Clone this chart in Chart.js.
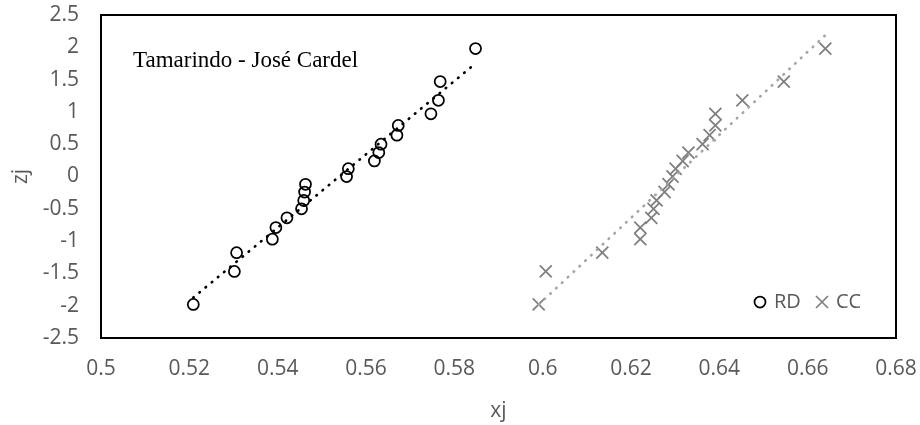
<!DOCTYPE html>
<html>
<head>
<meta charset="utf-8">
<script src="https://cdn.jsdelivr.net/npm/chart.js@4.4.0/dist/chart.umd.min.js"></script>
<style>
html, body { margin: 0; padding: 0; background: #fff; }
</style>
</head>
<body>
<canvas id="qqChart" width="920" height="425"></canvas>
<script>
// normal scores (same for both stations)
const zj = [-1.98, -1.47, -1.18, -0.97, -0.79, -0.64, -0.50, -0.37, -0.24, -0.12, 0,
            0.12, 0.24, 0.37, 0.50, 0.64, 0.79, 0.97, 1.18, 1.47, 1.98];
const rdXj = [0.5209, 0.5302, 0.5307, 0.5388, 0.5396, 0.5421, 0.5454, 0.5459, 0.5461, 0.5463, 0.5556,
              0.5560, 0.5619, 0.5629, 0.5634, 0.5670, 0.5673, 0.5747, 0.5764, 0.5768, 0.5848];
const ccXj = [0.5991, 0.6007, 0.6135, 0.6221, 0.6221, 0.6246, 0.6251, 0.6258, 0.6276, 0.6285, 0.6294,
              0.6301, 0.6317, 0.6330, 0.6362, 0.6378, 0.6391, 0.6391, 0.6452, 0.6546, 0.6640];
const xTicks = [0.5, 0.52, 0.54, 0.56, 0.58, 0.6, 0.62, 0.64, 0.66, 0.68];
const yTicks = [-2.5, -2, -1.5, -1, -0.5, 0, 0.5, 1, 1.5, 2, 2.5];
const seriesNames = ['RD', 'CC'];
const chartLabel = 'Tamarindo - José Cardel';

const tickFont = { family: "'Open Sans', sans-serif", size: 21 };
const textGray = '#595959';

function toPoints(xs, ys) {
    return xs.map((x, i) => ({ x: x, y: ys[i] }));
}

// linear trendline (least squares, zj on xj) between min and max x
function trendline(xs, ys) {
    const n = xs.length;
    const mx = xs.reduce((a, b) => a + b, 0) / n;
    const my = ys.reduce((a, b) => a + b, 0) / n;
    let sxy = 0, sxx = 0;
    for (let i = 0; i < n; i++) {
        sxy += (xs[i] - mx) * (ys[i] - my);
        sxx += (xs[i] - mx) * (xs[i] - mx);
    }
    const b = sxy / sxx;
    const a = my - b * mx;
    const lo = Math.min(...xs), hi = Math.max(...xs);
    return [{ x: lo, y: a + b * lo }, { x: hi, y: a + b * hi }];
}

function fmt(v) {
    return String(Math.round(v * 100) / 100);
}

const framePlugin = {
    id: 'frame',
    beforeDatasetsDraw(chart) {
        const { ctx, chartArea: a } = chart;
        ctx.save();
        ctx.strokeStyle = '#000';
        ctx.lineWidth = 2;
        ctx.strokeRect(a.left, a.top, a.right - a.left, a.bottom - a.top);
        ctx.restore();
    },
    afterDraw(chart) {
        const { ctx, chartArea: a } = chart;
        ctx.save();
        // label inside the plot
        ctx.fillStyle = '#000';
        ctx.font = "23px 'Liberation Serif', 'Times New Roman', serif";
        ctx.textBaseline = 'alphabetic';
        ctx.textAlign = 'left';
        ctx.fillText(chartLabel, a.left + 32, a.top + 51.5);

        // legend, bottom right
        const ly = a.bottom - 36;
        let lx = a.right - 136;
        ctx.strokeStyle = '#000';
        ctx.lineWidth = 1.75;
        ctx.beginPath();
        ctx.arc(lx, ly, 5.5, 0, Math.PI * 2);
        ctx.stroke();
        ctx.font = "20px 'Open Sans', sans-serif";
        ctx.fillStyle = textGray;
        ctx.textBaseline = 'middle';
        ctx.fillText(seriesNames[0], lx + 14, ly);
        lx += 62;
        ctx.strokeStyle = '#7f7f7f';
        ctx.beginPath();
        ctx.moveTo(lx - 6, ly - 6); ctx.lineTo(lx + 6, ly + 6);
        ctx.moveTo(lx - 6, ly + 6); ctx.lineTo(lx + 6, ly - 6);
        ctx.stroke();
        ctx.fillText(seriesNames[1], lx + 14, ly);
        ctx.restore();
    }
};

const dotted = { showLine: true, pointRadius: 0, borderWidth: 2.7, borderDash: [0.5, 7.5], borderCapStyle: 'round', fill: false };

new Chart(document.getElementById('qqChart'), {
    type: 'scatter',
    data: {
        datasets: [
            Object.assign({ label: 'RD trend', data: trendline(rdXj, zj), borderColor: '#000', order: 0 }, dotted),
            Object.assign({ label: 'CC trend', data: trendline(ccXj, zj), borderColor: '#a5a5a5', order: 0 }, dotted),
            {
                label: seriesNames[0],
                data: toPoints(rdXj, zj),
                pointStyle: 'circle',
                pointRadius: 5.5,
                borderWidth: 1.75,
                borderColor: '#000',
                backgroundColor: 'rgba(0,0,0,0)',
                order: 1
            },
            {
                label: seriesNames[1],
                data: toPoints(ccXj, zj),
                pointStyle: 'crossRot',
                pointRadius: 8.5,
                borderWidth: 1.75,
                borderColor: '#7f7f7f',
                order: 1
            }
        ]
    },
    options: {
        responsive: false,
        animation: false,
        layout: { padding: { top: 15, right: 24, left: 0, bottom: 0 } },
        plugins: { legend: { display: false }, tooltip: { enabled: false } },
        scales: {
            x: {
                type: 'linear',
                min: 0.5,
                max: 0.68,
                afterBuildTicks: s => { s.ticks = xTicks.map(v => ({ value: v })); },
                afterFit: s => { s.height = 87; s.paddingLeft = 0; s.paddingRight = 0; },
                grid: { display: false, drawTicks: false },
                border: { display: false },
                ticks: { callback: v => fmt(v), color: textGray, font: tickFont, padding: 18, maxRotation: 0, autoSkip: false },
                title: { display: true, text: 'xj', color: textGray, font: tickFont, padding: { top: 0, bottom: 1 } }
            },
            y: {
                type: 'linear',
                min: -2.5,
                max: 2.5,
                afterBuildTicks: s => { s.ticks = yTicks.map(v => ({ value: v })); },
                afterFit: s => { s.width = 101; s.paddingTop = 0; s.paddingBottom = 0; },
                grid: { display: false, drawTicks: false },
                border: { display: false },
                ticks: { callback: v => fmt(v), color: textGray, font: tickFont, padding: 22, autoSkip: false },
                title: { display: true, text: 'zj', color: textGray, font: tickFont, padding: { top: 8, bottom: 0 } }
            }
        }
    },
    plugins: [framePlugin]
});
</script>
</body>
</html>
